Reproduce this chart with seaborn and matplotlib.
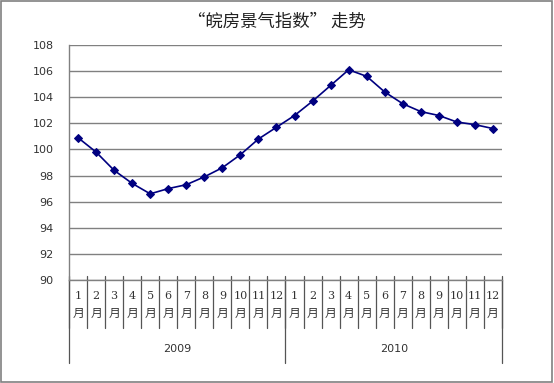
import numpy as np
import pandas as pd
import matplotlib
matplotlib.use("Agg")
import matplotlib.pyplot as plt
import seaborn as sns
from matplotlib.patches import Rectangle

# data
years = ["2009", "2010"]
months = [f"{m}\n月" for m in range(1, 13)]
values = [100.9, 99.8, 98.4, 97.4, 96.6, 97.0, 97.3, 97.9, 98.6, 99.6, 100.8, 101.7,
          102.6, 103.7, 104.9, 106.1, 105.6, 104.4, 103.5, 102.9, 102.6, 102.1, 101.9, 101.6]
yticks = [90, 92, 94, 96, 98, 100, 102, 104, 106, 108]

df = pd.DataFrame({
    "pos": np.arange(len(values)),
    "value": values,
})

sns.set_theme(style="white")
plt.rcParams["font.family"] = ["Noto Sans CJK SC", "DejaVu Sans"]

fig = plt.figure(figsize=(5.54, 3.83), dpi=100)
ax = fig.add_axes([69 / 554, 1 - 280 / 383, 433 / 554, 235 / 383])

# chart border
fig.patches.append(Rectangle((0.002, 0.003), 0.994, 0.994, transform=fig.transFigure,
                             fill=False, edgecolor="#808080", linewidth=1.2))

sns.lineplot(data=df, x="pos", y="value", ax=ax, color="#000080", linewidth=1.2,
             marker="D", markersize=4.5, markeredgecolor="#000080")

ax.set_xlim(-0.5, len(values) - 0.5)
ax.set_ylim(90, 108)
ax.set_yticks(yticks)
ax.set_yticklabels([str(t) for t in yticks], fontsize=8, color="#333333",
                   family=["DejaVu Sans"])
ax.tick_params(axis="y", length=0, pad=11)
ax.yaxis.grid(True, color="#808080", linewidth=1)
ax.set_axisbelow(True)

for s in ["top", "right"]:
    ax.spines[s].set_visible(False)
for s in ["left", "bottom"]:
    ax.spines[s].set_color("#808080")
    ax.spines[s].set_linewidth(1)

ax.set_xticks([])
ax.set_xlabel("")
ax.set_ylabel("")

trans = ax.get_xaxis_transform()
h = 235.0
# month labels
for i in range(len(values)):
    m = months[i % 12].split("\n")
    ax.text(i, -(296 - 280) / h, m[0], transform=trans, ha="center", va="center",
            fontsize=8, color="#333333", family=["DejaVu Serif"])
    ax.text(i, -(313 - 280) / h, m[1], transform=trans, ha="center", va="center",
            fontsize=8.5, color="#333333")

# month separators
for b in np.arange(-0.5, len(values), 1.0):
    ax.plot([b, b], [4 / h, -(328 - 280) / h], transform=trans, color="#555555",
            linewidth=0.9, clip_on=False)

# year separators and labels
for k, yr in enumerate(years):
    ax.text(k * 12 + 5.5, -(349 - 280) / h, yr, transform=trans, ha="center",
            va="center", fontsize=8, color="#333333", family=["DejaVu Sans"])
for b in [-0.5, 11.5, 23.5]:
    ax.plot([b, b], [0, -(363 - 280) / h], transform=trans, color="#555555",
            linewidth=0.9, clip_on=False)

fig.text(0.5, 1 - 22 / 383, "“皖房景气指数” 走势", ha="center", va="center",
         fontsize=12.5, color="#222222")

fig.savefig("out.png", dpi=100)
